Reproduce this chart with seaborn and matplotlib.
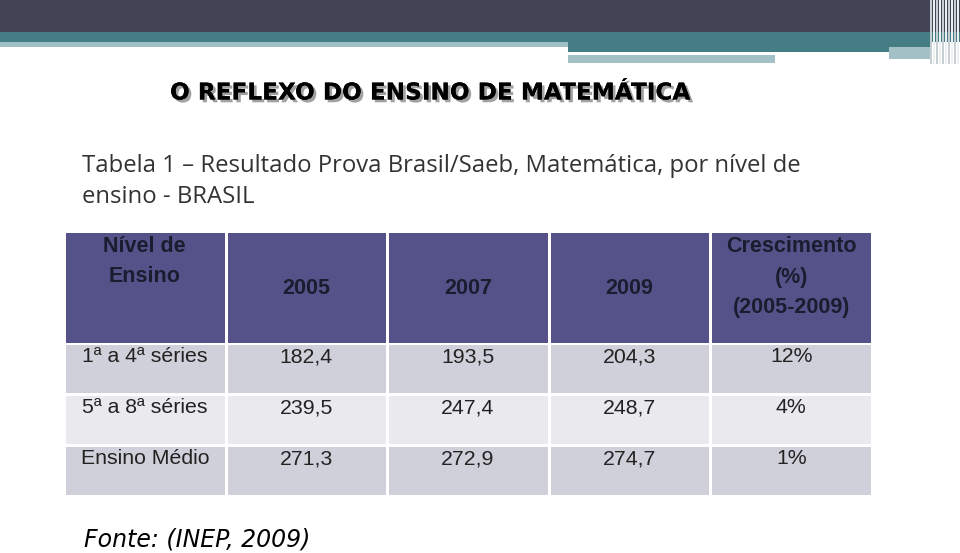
import matplotlib
matplotlib.use("Agg")
import matplotlib.pyplot as plt
import matplotlib.patheffects as pe
from matplotlib.colors import ListedColormap
import seaborn as sns
import numpy as np
import pandas as pd

# table contents
header_cols = ["Nível de\nEnsino", "2005", "2007", "2009", "Crescimento\n(%)\n(2005-2009)"]
levels = ["1ª a 4ª séries", "5ª a 8ª séries", "Ensino Médio"]
v2005 = ["182,4", "239,5", "271,3"]
v2007 = ["193,5", "247,4", "272,9"]
v2009 = ["204,3", "248,7", "274,7"]
growth = ["12%", "4%", "1%"]

title = "O REFLEXO DO ENSINO DE MATEMÁTICA"
subtitle = ["Tabela 1 – Resultado Prova Brasil/Saeb, Matemática, por nível de",
            "ensino - BRASIL"]
source = "Fonte: (INEP, 2009)"

W, H = 960, 553
fig = plt.figure(figsize=(W / 100, H / 100), dpi=100)

# background / slide decoration
bg = fig.add_axes([0, 0, 1, 1])
bg.set_xlim(0, W)
bg.set_ylim(H, 0)
bg.axis("off")
R = plt.Rectangle
bg.add_patch(R((0, 0), W, 32, color="#434356", lw=0))
bg.add_patch(R((0, 32), W, 10, color="#457d84", lw=0))
bg.add_patch(R((0, 42), 568, 5, color="#9fc0c4", lw=0))
bg.add_patch(R((568, 42), 362, 10, color="#457d84", lw=0))
bg.add_patch(R((568, 52), 321, 3, color="white", lw=0))
bg.add_patch(R((889, 47), 41, 12, color="#a3c0c5", lw=0))
bg.add_patch(R((568, 55), 207, 8, color="#a3c0c5", lw=0))
for i, x in enumerate(np.arange(930, 960, 3)):
    bg.add_patch(R((x, 0), 2, 64, color=["#c8cfd2", "#eef1f2"][i % 2], lw=0))

bg.text(170, 93, title, fontsize=16.7, fontweight="bold", family="DejaVu Sans",
        color="black", va="center", ha="left",
        path_effects=[pe.withSimplePatchShadow(offset=(2, -2), shadow_rgbFace="#8a8a8a", alpha=0.8),
                      pe.Normal()])
bg.text(82, 166, subtitle[0], fontsize=17.2, family="Open Sans", color="#333333",
        va="center", ha="left")
bg.text(82, 197, subtitle[1], fontsize=17.2, family="Open Sans", color="#333333",
        va="center", ha="left")
bg.text(84, 539, source, fontsize=17, family="DejaVu Sans", style="italic",
        color="black", va="center", ha="left")

def px_axes(x0, y0, x1, y1):
    return fig.add_axes([x0 / W, 1 - y1 / H, (x1 - x0) / W, (y1 - y0) / H])

# header band
hax = px_axes(64, 231, 872, 344)
sns.heatmap(pd.DataFrame([np.zeros(len(header_cols))]), ax=hax, cbar=False,
            cmap=ListedColormap(["#55528a"]), linewidths=2, linecolor="white")
hax.axis("off")
for j, lab in enumerate(header_cols):
    lines = lab.split("\n")
    if len(lines) == 1:
        ys = [0.51]
    elif len(lines) == 2:
        ys = [0.135, 0.40]
    else:
        ys = [0.135, 0.41, 0.68]
    for y, ln in zip(ys, lines):
        hax.text(j + 0.5, y, ln, ha="center", va="center", fontsize=15.5,
                 fontweight="bold", family="Liberation Sans", color="#1c1c30")

# body rows
body = pd.DataFrame({"nivel": levels, "2005": v2005, "2007": v2007,
                     "2009": v2009, "cresc": growth})
shade = np.array([[i % 2] * body.shape[1] for i in range(len(body))])
bax = px_axes(64, 343, 872, 496)
sns.heatmap(shade, ax=bax, cbar=False, cmap=ListedColormap(["#d0d0da", "#e9e9ee"]),
            linewidths=2, linecolor="white")
bax.axis("off")
for i in range(len(body)):
    for j, col in enumerate(body.columns):
        bax.text(j + 0.5, i + 0.27, body.iloc[i, j], ha="center", va="center",
                 fontsize=15.3, family="Liberation Sans", color="#222222")

fig.savefig("out.png", dpi=100)
